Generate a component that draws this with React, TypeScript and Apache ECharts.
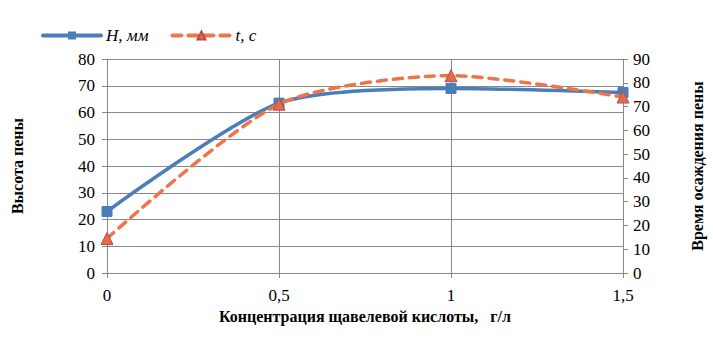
import React, { useEffect, useRef } from "react";
import * as echarts from "echarts";

const xValues = [0, 0.5, 1, 1.5];
const heightValues = [23, 63.5, 69, 67.5];
const timeValues = [14.5, 71, 83, 74];
const seriesNames = ["H, мм", "t, с"];
const xTitle = "Концентрация щавелевой кислоты,   г/л";
const leftTitle = "Высота пены";
const rightTitle = "Время осаждения пены";

const FONT = "Liberation Serif, DejaVu Serif";
const GRID = "#888888";

export default function App() {
  const ref = useRef<HTMLDivElement>(null);
  useEffect(() => {
    if (!ref.current) return;
    const chart = echarts.init(ref.current, undefined, { renderer: "svg" });
    chart.setOption({
      animation: false,
      backgroundColor: "#ffffff",
      textStyle: { fontFamily: FONT },
      legend: {
        left: 36,
        top: 22,
        itemWidth: 58,
        itemHeight: 10,
        itemGap: 22,
        lineStyle: { width: 4 },
        textStyle: { fontFamily: FONT, fontSize: 17, fontStyle: "italic", color: "#000" },
        data: seriesNames,
      },
      grid: { left: 107, right: 90, top: 59, bottom: 74, containLabel: false },
      xAxis: {
        type: "value",
        min: 0,
        max: 1.5,
        interval: 0.5,
        name: xTitle,
        nameLocation: "middle",
        nameGap: 30,
        nameTextStyle: { fontFamily: FONT, fontSize: 16, fontWeight: "bold", color: "#000" },
        axisLine: { show: true, lineStyle: { color: GRID } },
        axisTick: { show: true, length: 5, lineStyle: { color: GRID } },
        splitLine: { show: true, lineStyle: { color: GRID } },
        axisLabel: {
          fontFamily: FONT,
          fontSize: 17,
          color: "#000",
          margin: 14,
          formatter: (v: number) => String(v).replace(".", ","),
        },
      },
      yAxis: [
        {
          type: "value",
          min: 0,
          max: 80,
          interval: 10,
          name: leftTitle,
          nameLocation: "middle",
          nameGap: 82,
          nameRotate: 90,
          nameTextStyle: { fontFamily: FONT, fontSize: 16, fontWeight: "bold", color: "#000" },
          axisLine: { show: true, lineStyle: { color: GRID } },
          axisTick: { show: true, length: 5, lineStyle: { color: GRID } },
          splitLine: { show: true, lineStyle: { color: GRID } },
          axisLabel: { fontFamily: FONT, fontSize: 17, color: "#000", margin: 12 },
        },
        {
          type: "value",
          min: 0,
          max: 90,
          interval: 10,
          position: "right",
          name: rightTitle,
          nameLocation: "middle",
          nameGap: 66,
          nameRotate: 90,
          nameTextStyle: { fontFamily: FONT, fontSize: 16, fontWeight: "bold", color: "#000" },
          axisLine: { show: true, lineStyle: { color: GRID } },
          axisTick: { show: true, length: 5, lineStyle: { color: GRID } },
          splitLine: { show: false },
          axisLabel: { fontFamily: FONT, fontSize: 17, color: "#000", margin: 10 },
        },
      ],
      series: [
        {
          name: seriesNames[0],
          type: "line",
          yAxisIndex: 0,
          smooth: 0.25,
          data: xValues.map((x, i) => [x, heightValues[i]]),
          symbol: "rect",
          symbolSize: 10,
          itemStyle: { color: "#4A7EBB", borderColor: "#4A7EBB" },
          lineStyle: { color: "#4A7EBB", width: 3.5, cap: "round" },
          z: 3,
        },
        {
          name: seriesNames[1],
          type: "line",
          yAxisIndex: 1,
          smooth: 0.25,
          data: xValues.map((x, i) => [x, timeValues[i]]),
          symbol: "triangle",
          symbolSize: 12,
          itemStyle: { color: "#E46C4D", borderColor: "#BE4B48", borderWidth: 1 },
          lineStyle: { color: "#F07449", width: 3.5, type: [9, 7], cap: "round" },
          z: 4,
        },
      ],
    });
    return () => chart.dispose();
  }, []);
  return <div ref={ref} style={{ width: 713, height: 347, position: "absolute", left: 0, top: 0 }} />;
}
